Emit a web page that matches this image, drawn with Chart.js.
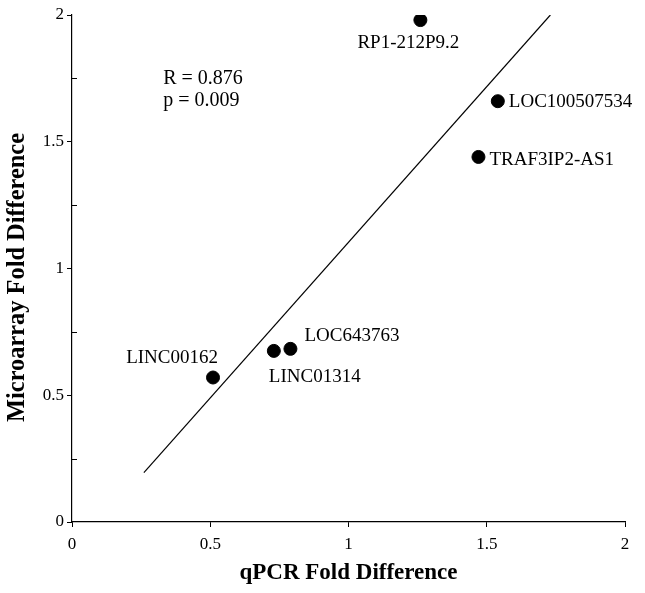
<!DOCTYPE html>
<html lang="en">
<head>
    <meta charset="UTF-8">
    <title>qPCR vs Microarray</title>
    <script src="https://cdn.jsdelivr.net/npm/chart.js"></script>
    <style>
        body { margin: 0; background: #fff; }
        #wrap { width: 645px; height: 593px; }
    </style>
</head>
<body>
    <div id="wrap"><canvas id="scatter" width="645" height="593"></canvas></div>

    <script>
        // values
        const genes = ['RP1-212P9.2', 'LOC100507534', 'TRAF3IP2-AS1', 'LINC00162', 'LINC01314', 'LOC643763'];
        const qpcrFold = [1.26, 1.54, 1.47, 0.51, 0.73, 0.79];
        const arrayFold = [1.98, 1.66, 1.44, 0.57, 0.675, 0.683];

        // fitted line end points
        const fitX = [0.26, 1.73];
        const fitY = [0.195, 2.0];

        const axisTicks = [0, 0.5, 1, 1.5, 2];
        const minorTicks = [0.25, 0.75, 1.25, 1.75];
        const statsText = ['R = 0.876', 'p = 0.009'];

        // where each gene name sits relative to its dot (px)
        const labelPlace = [
            { dx: -12, dy: 23, align: 'center' },
            { dx: 11, dy: 1, align: 'left' },
            { dx: 11, dy: 3, align: 'left' },
            { dx: 5, dy: -19, align: 'right' },
            { dx: -5, dy: 26, align: 'left' },
            { dx: 14, dy: -13, align: 'left' }
        ];

        const serif = '"Liberation Serif", "Times New Roman", serif';

        // gene names, R/p text, y title and inward minor ticks
        const annotate = {
            id: 'annotate',
            afterDatasetsDraw(chart) {
                const c = chart.ctx;
                const xs = chart.scales.x, ys = chart.scales.y;
                c.save();
                c.fillStyle = '#000';
                c.textBaseline = 'middle';
                c.font = '19px ' + serif;
                genes.forEach((g, i) => {
                    const p = labelPlace[i];
                    c.textAlign = p.align;
                    c.fillText(g, xs.getPixelForValue(qpcrFold[i]) + p.dx, ys.getPixelForValue(arrayFold[i]) + p.dy);
                });
                c.font = '20px ' + serif;
                c.textAlign = 'left';
                c.fillText(statsText[0], xs.getPixelForValue(0.33), ys.getPixelForValue(1.75));
                c.fillText(statsText[1], xs.getPixelForValue(0.33), ys.getPixelForValue(1.66));

                // y axis title, sits a little below the middle in the original
                c.save();
                c.translate(18, (ys.top + ys.bottom) / 2 + 9);
                c.rotate(-Math.PI / 2);
                c.textAlign = 'center';
                c.font = 'bold 24.4px ' + serif;
                c.fillText('Microarray Fold Difference', 0, 0);
                c.restore();

                // minor ticks on the y axis point inward
                c.strokeStyle = '#000';
                c.lineWidth = 1;
                minorTicks.forEach(v => {
                    const y = Math.round(ys.getPixelForValue(v)) + 0.5;
                    c.beginPath();
                    c.moveTo(xs.left, y);
                    c.lineTo(xs.left + 5, y);
                    c.stroke();
                });
                c.restore();
            }
        };

        const ctx = document.getElementById('scatter').getContext('2d');
        new Chart(ctx, {
            type: 'scatter',
            data: {
                datasets: [
                    {
                        type: 'line',
                        data: fitX.map((x, i) => ({ x: x, y: fitY[i] })),
                        borderColor: '#000',
                        borderWidth: 1.2,
                        pointRadius: 0,
                        fill: false
                    },
                    {
                        data: qpcrFold.map((x, i) => ({ x: x, y: arrayFold[i] })),
                        backgroundColor: '#000',
                        borderColor: '#000',
                        pointRadius: 6.5,
                        pointHoverRadius: 6.5
                    }
                ]
            },
            options: {
                responsive: false,
                animation: false,
                devicePixelRatio: 1,
                layout: { padding: { top: 15, right: 20, left: 0, bottom: 0 } },
                plugins: { legend: { display: false }, tooltip: { enabled: false } },
                scales: {
                    x: {
                        type: 'linear',
                        min: 0, max: 2,
                        afterBuildTicks: s => { s.ticks = axisTicks.map(v => ({ value: v })); },
                        afterFit: s => { s.height = 71; },
                        border: { color: '#000', width: 1.2 },
                        grid: { drawOnChartArea: false, color: '#000', tickLength: 5 },
                        ticks: {
                            color: '#000',
                            padding: 7,
                            font: { family: serif, size: 17 },
                            callback: v => String(v)
                        },
                        title: {
                            display: true,
                            text: 'qPCR Fold Difference',
                            color: '#000',
                            font: { family: serif, size: 23, weight: 'bold' },
                            padding: { top: 0, bottom: 6 }
                        }
                    },
                    y: {
                        type: 'linear',
                        min: 0, max: 2,
                        afterBuildTicks: s => { s.ticks = axisTicks.map(v => ({ value: v })); },
                        afterFit: s => { s.width = 72; },
                        border: { color: '#000', width: 1.2 },
                        grid: { drawOnChartArea: false, color: '#000', tickLength: 5 },
                        ticks: {
                            color: '#000',
                            padding: 3,
                            font: { family: serif, size: 17 },
                            callback: v => String(v)
                        }
                    }
                }
            },
            plugins: [annotate]
        });
    </script>
</body>
</html>
